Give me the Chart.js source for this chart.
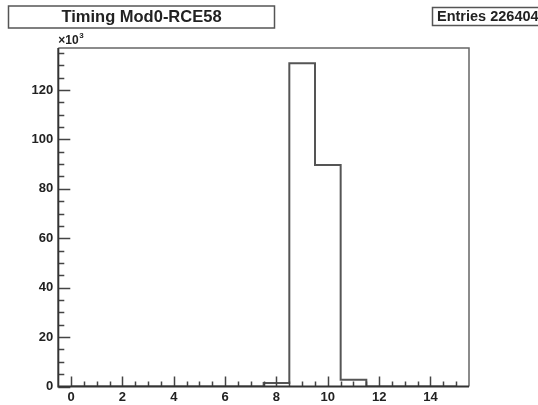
<!DOCTYPE html>
<html lang="en">

<head>
    <meta charset="UTF-8">
    <title>Timing Mod0-RCE58</title>
    <script src="https://cdn.jsdelivr.net/npm/chart.js@4.4.0/dist/chart.umd.min.js"></script>
    <style>
        body { margin: 0; background: #fff; }
    </style>
</head>

<body>

    <canvas id="chart" width="538" height="405"></canvas>

    <script>
        // histogram bins (bin centres) and their contents
        const bins = [0, 1, 2, 3, 4, 5, 6, 7, 8, 9, 10, 11, 12, 13, 14, 15];
        const counts = [0, 0, 0, 0, 0, 0, 0, 0, 1400, 130800, 89600, 2700, 0, 0, 0, 0];
        const xTicks = [0, 2, 4, 6, 8, 10, 12, 14];
        const yTicks = [0, 20000, 40000, 60000, 80000, 100000, 120000];
        const histTitle = 'Timing Mod0-RCE58';
        const entries = 226404;

        const font = "'Liberation Sans', Arial, sans-serif";
        const lineCol = '#555';

        // ROOT style: ticks inside frame, frame box, title/stat boxes
        const rootStyle = {
            id: 'rootStyle',
            afterDatasetsDraw(chart) {
                const { ctx, chartArea: a, scales: { x, y } } = chart;
                ctx.save();
                ctx.strokeStyle = '#444';
                ctx.lineWidth = 1.5;
                ctx.beginPath();
                for (let v = 0; v <= 135000; v += 5000) {
                    const py = Math.round(y.getPixelForValue(v)) + 0.5;
                    const len = v % 20000 === 0 ? 12 : 6;
                    ctx.moveTo(a.left, py);
                    ctx.lineTo(a.left + len, py);
                }
                for (let v = 0; v <= 15; v += 0.5) {
                    const px = Math.round(x.getPixelForValue(v)) + 0.5;
                    const len = v % 2 === 0 ? 10 : 5;
                    ctx.moveTo(px, a.bottom);
                    ctx.lineTo(px, a.bottom - len);
                }
                ctx.stroke();

                // top and right of the frame
                ctx.strokeStyle = '#666';
                ctx.lineWidth = 1.5;
                ctx.beginPath();
                ctx.moveTo(a.left, a.top);
                ctx.lineTo(a.right, a.top);
                ctx.lineTo(a.right, a.bottom);
                ctx.stroke();

                // axes
                ctx.strokeStyle = '#333';
                ctx.lineWidth = 2;
                ctx.beginPath();
                ctx.moveTo(a.left, a.top);
                ctx.lineTo(a.left, a.bottom);
                ctx.lineTo(a.right, a.bottom);
                ctx.stroke();
                ctx.restore();
            },
            afterDraw(chart) {
                const { ctx, chartArea: a } = chart;
                ctx.save();
                ctx.fillStyle = '#222';
                ctx.strokeStyle = '#555';
                ctx.lineWidth = 1.5;

                // title box
                ctx.strokeRect(8.5, 6, 266, 22);
                ctx.font = 'bold 16.5px ' + font;
                ctx.textAlign = 'center';
                ctx.textBaseline = 'middle';
                ctx.fillText(histTitle, 141.5, 17.5);

                // stat box
                ctx.strokeRect(432.5, 7.5, 115, 18);
                ctx.font = 'bold 14.5px ' + font;
                ctx.textAlign = 'left';
                ctx.fillText('Entries ' + entries, 437, 17);

                // exponent label
                ctx.font = 'bold 12px ' + font;
                ctx.textBaseline = 'alphabetic';
                ctx.fillText('\u00d710', a.left, a.top - 4);
                ctx.font = 'bold 8px ' + font;
                ctx.fillText('3', a.left + 21, a.top - 10);
                ctx.restore();
            }
        };

        const ctx = document.getElementById('chart').getContext('2d');
        const myChart = new Chart(ctx, {
            type: 'line',
            data: {
                datasets: [{
                    label: histTitle,
                    data: bins.map((b, i) => ({ x: b, y: counts[i] })),
                    stepped: 'middle',
                    borderColor: lineCol,
                    borderWidth: 2,
                    pointRadius: 0,
                    fill: false
                }]
            },
            options: {
                responsive: false,
                animation: false,
                layout: { padding: { left: 0, top: 48, right: 69, bottom: 0 } },
                plugins: { legend: { display: false }, tooltip: { enabled: false } },
                scales: {
                    x: {
                        type: 'linear',
                        min: -0.5,
                        max: 15.5,
                        grid: { display: false, drawTicks: false },
                        border: { display: false },
                        afterBuildTicks: s => { s.ticks = xTicks.map(v => ({ value: v })); },
                        afterFit: s => { s.height = 18.5; },
                        ticks: {
                            padding: 3,
                            color: '#222',
                            maxRotation: 0,
                            font: { family: font, size: 13, weight: 'bold' }
                        }
                    },
                    y: {
                        min: 0,
                        max: 137000,
                        grid: { display: false, drawTicks: false },
                        border: { display: false },
                        afterBuildTicks: s => { s.ticks = yTicks.map(v => ({ value: v })); },
                        afterFit: s => { s.width = 58.3; },
                        ticks: {
                            padding: 5,
                            color: '#222',
                            callback: v => v / 1000,
                            font: { family: font, size: 13, weight: 'bold' }
                        }
                    }
                }
            },
            plugins: [rootStyle]
        });
    </script>

</body>

</html>
